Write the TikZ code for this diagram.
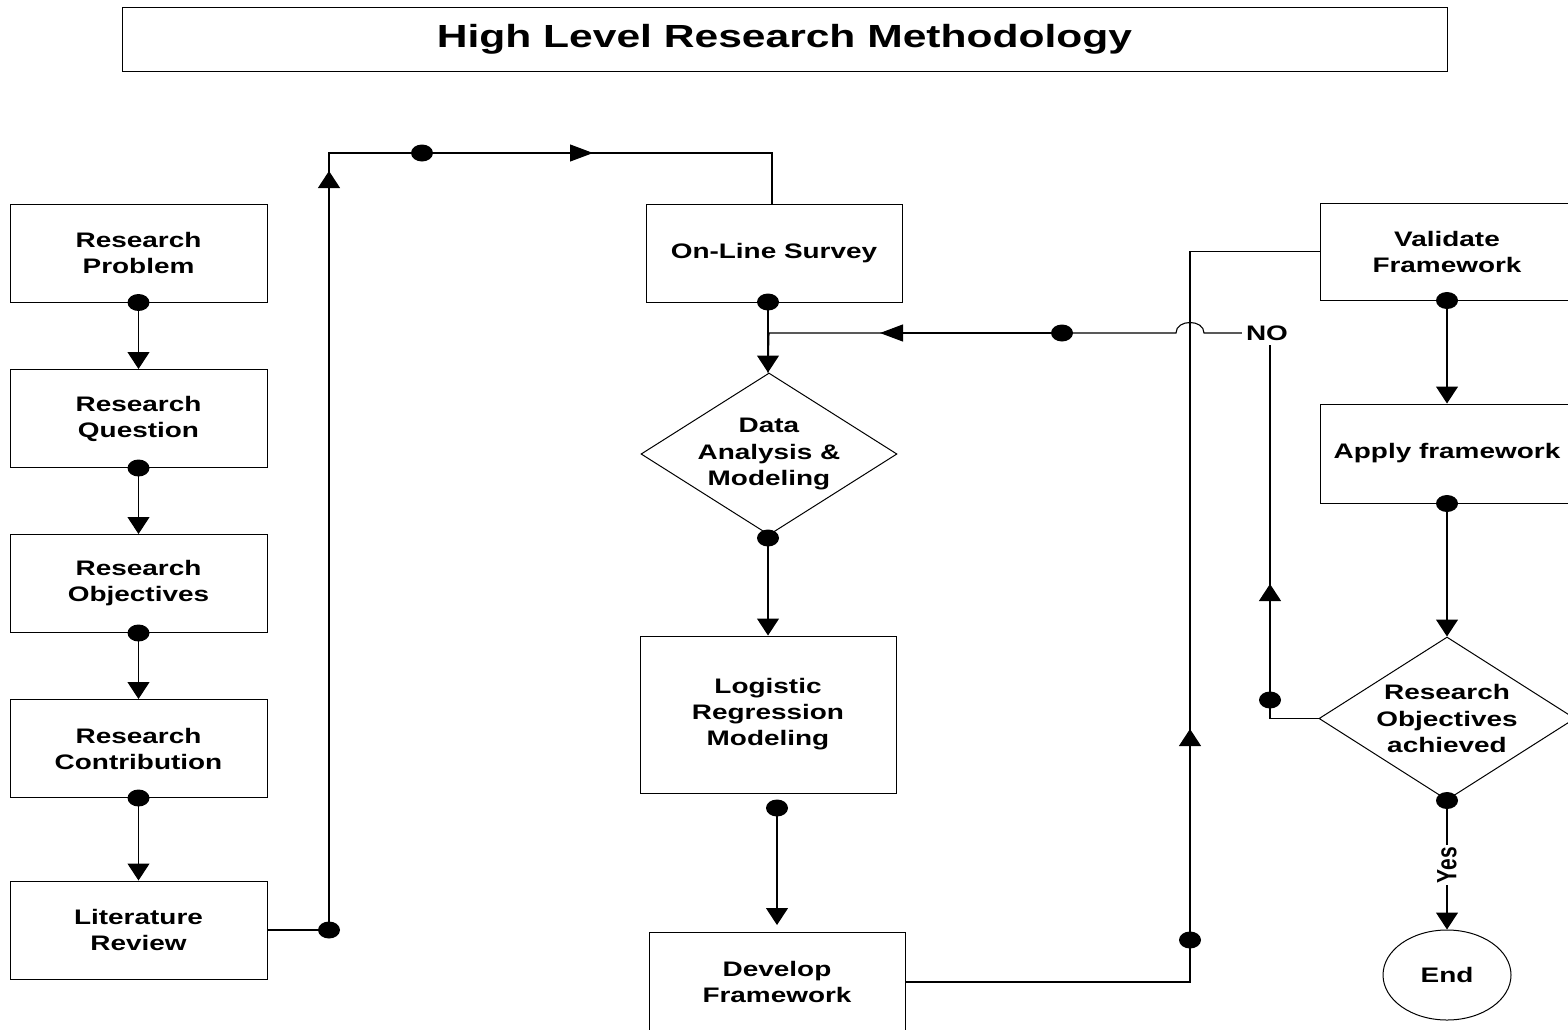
\documentclass[tikz,border=0pt]{standalone}
\usepackage{fontspec}
\setmainfont{Liberation Sans}[FakeStretch=1.33]
\usetikzlibrary{arrows.meta,shapes.geometric}
\tikzset{
  box/.style={draw, rectangle, align=center, inner sep=0pt, line width=1pt,
    font=\fontsize{21}{26}\selectfont\bfseries, minimum width=257pt, minimum height=98pt},
  decision/.style={draw, diamond, inner sep=0pt, line width=1pt,
    label={[align=center, font=\fontsize{21}{26.5}\selectfont\bfseries]center:#1}},
  conn/.style={line width=1.1pt},
  vtip/.style={-{Triangle[width=22pt,length=17pt]}},
  htip/.style={-{Triangle[width=17pt,length=23pt]}},
  yeslabel/.style={fill=white, rotate=90, inner sep=2pt, font=\fontsize{21}{26}\selectfont\bfseries},
}

\begin{document}
\begin{tikzpicture}[x=1pt,y=-1pt]
  \fill[white] (0,0) rectangle (1568,1029);
  \useasboundingbox (0,0) rectangle (1568,1029);

  % title
  \node[draw, line width=1pt, minimum width=1325pt, minimum height=64pt,
    font=\fontsize{32}{38}\selectfont\bfseries] (title) at (784.5,39) {High Level Research Methodology};

  % first column
  \node[box] (prob) at (138.5,253) {Research\\Problem};
  \node[box] (ques) at (138.5,418.5) {Research\\Question};
  \node[box] (obj) at (138.5,583.5) {Research\\Objectives};
  \node[box] (contr) at (138.5,748.5) {Research\\Contribution};
  \node[box] (lit) at (138.5,930) {Literature\\Review};

  % second column
  \node[box, minimum width=256pt] (survey) at (774,253) {On-Line Survey};
  \node[decision={Data\\Analysis \&\\Modeling}, minimum width=256pt, minimum height=162pt] (data) at (769,454) {};
  \node[box, minimum width=256pt, minimum height=157pt] (logit) at (768,714.5) {Logistic\\Regression\\Modeling};
  \node[box, minimum width=256pt, minimum height=100pt] (dev) at (777,982) {Develop\\Framework};

  % third column
  \node[box, minimum width=254pt, minimum height=97pt] (val) at (1447,251.5) {Validate\\Framework};
  \node[box, minimum width=254pt, minimum height=99pt] (app) at (1447,453.5) {Apply framework};
  \node[decision={Research\\Objectives\\achieved}, minimum width=256pt, minimum height=163pt] (res) at (1447,718.5) {};
  \node[draw, ellipse, line width=1pt, minimum width=128pt, minimum height=90pt,
    font=\fontsize{21}{26}\selectfont\bfseries] (end) at (1447,975) {End};
  \node[inner sep=4pt, font=\fontsize{21}{26}\selectfont\bfseries] (no) at (1267,333) {NO};

  % bends, dots and arrow tips
  \coordinate (litdot) at (329,930);
  \coordinate (upturn) at (329,153);
  \coordinate (uptip) at (329,171);
  \coordinate (topdot) at (422,153);
  \coordinate (righttip) at (593,153);
  \coordinate (topturn) at (772,153);
  \coordinate (svdot) at (768,302);
  \coordinate (fbturn) at (769,333);
  \coordinate (lefttip) at (880,333);
  \coordinate (fbdot) at (1062,333);
  \coordinate (jumpL) at (1176,333);
  \coordinate (jumpR) at (1204,333);
  \coordinate (ddot) at (768,538);
  \coordinate (ldot) at (777,808);
  \coordinate (devtip) at (777,925);
  \coordinate (vtop) at (1190,251.5);
  \coordinate (vdot) at (1190,940);
  \coordinate (uptipb) at (1190,729);
  \coordinate (nocorner) at (1270,718.5);
  \coordinate (nodot) at (1270,700);
  \coordinate (notip) at (1270,584);

  % first column
  \foreach \a/\b in {prob/ques, ques/obj, obj/contr, contr/lit}
    \draw[conn, vtip] (\a.south) -- (\b.north);
  \draw[conn] (lit.east) -- (litdot) -- (upturn) -- (topturn) -- (topturn |- survey.north);
  \draw[conn, vtip] (litdot) -- (uptip);
  \draw[conn, htip] (topdot) -- (righttip);

  % second column
  \draw[conn, vtip] (svdot) -- (svdot |- data.north);
  \draw[conn] (no.west) -- (jumpR) .. controls (1204,319) and (1176,319) .. (jumpL) -- (fbturn) -- (svdot |- data.north);
  \draw[conn, htip] (fbdot) -- (lefttip);
  \draw[conn, vtip] (ddot) -- (ddot |- logit.north);
  \draw[conn, vtip] (ldot) -- (devtip);
  \draw[conn] (dev.east) -| (vtop) -- (val.west);
  \draw[conn, vtip] (vdot) -- (uptipb);

  % third column
  \draw[conn, vtip] (val.south) -- (app.north);
  \draw[conn, vtip] (app.south) -- (res.north);
  \draw[conn, vtip] (res.south) -- node[yeslabel] {\scalebox{0.752}[1.33]{Yes}} (end.north);
  \draw[conn] (res.west) -- (nocorner) -- (nocorner |- no.south);
  \draw[conn, vtip] (nodot) -- (notip);

  % dots
  \foreach \d in {prob.south, ques.south, obj.south, contr.south, litdot, topdot, svdot, fbdot,
      ddot, ldot, vdot, val.south, app.south, res.south, nodot}
    \fill (\d) ellipse (11pt and 8.5pt);
\end{tikzpicture}
\end{document}
